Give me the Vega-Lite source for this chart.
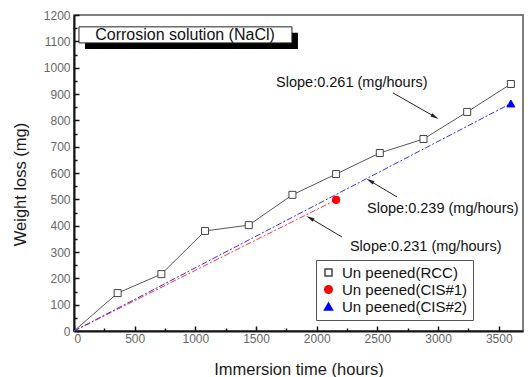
{
  "$schema": "https://vega.github.io/schema/vega-lite/v6.json",
  "width": 449,
  "height": 316,
  "autosize": {"type": "none"},
  "padding": {"left": 74, "top": 15, "right": 5, "bottom": 46},
  "background": "white",
  "config": {
    "view": {"stroke": "#555", "strokeWidth": 1.5},
    "font": "Liberation Sans",
    "axis": {
      "domainColor": "#111", "domainWidth": 2, "tickColor": "#111", "tickWidth": 1.5,
      "grid": false, "labelFont": "Liberation Sans", "labelFontSize": 12, "labelColor": "#666",
      "titleFont": "Liberation Sans", "titleFontSize": 16.5, "titleFontWeight": "normal", "titleColor": "#1a1a1a"
    },
    "legend": {
      "orient": "none", "legendX": 242, "legendY": 245, "title": null,
      "strokeColor": "#555", "fillColor": "white", "padding": 5,
      "labelFont": "Liberation Sans", "labelFontSize": 15, "labelColor": "#111",
      "rowPadding": 1, "labelOffset": 6
    }
  },
  "datasets": {
    "series": [
      {"series": "Un peened(RCC)", "t": 0, "w": 0},
      {"series": "Un peened(RCC)", "t": 360, "w": 144},
      {"series": "Un peened(RCC)", "t": 720, "w": 216},
      {"series": "Un peened(RCC)", "t": 1080, "w": 380},
      {"series": "Un peened(RCC)", "t": 1440, "w": 402},
      {"series": "Un peened(RCC)", "t": 1800, "w": 517},
      {"series": "Un peened(RCC)", "t": 2160, "w": 596},
      {"series": "Un peened(RCC)", "t": 2520, "w": 676},
      {"series": "Un peened(RCC)", "t": 2880, "w": 729},
      {"series": "Un peened(RCC)", "t": 3240, "w": 832},
      {"series": "Un peened(RCC)", "t": 3600, "w": 938},
      {"series": "Un peened(CIS#1)", "t": 0, "w": 0},
      {"series": "Un peened(CIS#1)", "t": 2160, "w": 498},
      {"series": "Un peened(CIS#2)", "t": 0, "w": 0},
      {"series": "Un peened(CIS#2)", "t": 3600, "w": 864}
    ],
    "notes": [
      {"label": "Slope:0.261 (mg/hours)", "x": 1665, "y": 942, "ax": 2629, "ay": 904, "hx": 2975, "hy": 813},
      {"label": "Slope:0.239 (mg/hours)", "x": 2415, "y": 463, "ax": 2662, "ay": 509, "hx": 2439, "hy": 570},
      {"label": "Slope:0.231 (mg/hours)", "x": 2274, "y": 319, "ax": 2208, "ay": 357, "hx": 1945, "hy": 429}
    ],
    "box": [
      {"label": "Corrosion solution (NaCl)", "x": 41, "x2": 1796, "y": 1155, "y2": 1094, "tx": 915, "ty": 1124}
    ]
  },
  "resolve": {"axis": {"x": "independent", "y": "independent"}},
  "layer": [
    {
      "data": {"name": "box"},
      "mark": {"type": "rect", "fill": "black", "xOffset": 6, "x2Offset": 6, "yOffset": 6, "y2Offset": 6},
      "encoding": {
        "x": {"field": "x", "type": "quantitative", "scale": {"domain": [0, 3700], "nice": false},
          "axis": {"orient": "bottom", "values": [250, 750, 1250, 1750, 2250, 2750, 3250], "labels": false, "title": null, "domain": false, "tickSize": -3}},
        "x2": {"field": "x2"},
        "y": {"field": "y", "type": "quantitative", "scale": {"domain": [0, 1200], "nice": false},
          "axis": {"orient": "left", "values": [50, 150, 250, 350, 450, 550, 650, 750, 850, 950, 1050, 1150], "labels": false, "title": null, "domain": false, "tickSize": -3}},
        "y2": {"field": "y2"}
      }
    },
    {
      "data": {"name": "box"},
      "mark": {"type": "rect", "fill": "white", "stroke": "#222", "strokeWidth": 1},
      "encoding": {
        "x": {"field": "x", "type": "quantitative", "axis": null},
        "x2": {"field": "x2"},
        "y": {"field": "y", "type": "quantitative", "axis": null},
        "y2": {"field": "y2"}
      }
    },
    {
      "data": {"name": "box"},
      "mark": {"type": "text", "fontSize": 16, "color": "#111", "align": "center", "baseline": "middle"},
      "encoding": {
        "x": {"field": "tx", "type": "quantitative", "axis": null},
        "y": {"field": "ty", "type": "quantitative", "axis": null},
        "text": {"field": "label"}
      }
    },
    {
      "data": {"name": "series"},
      "transform": [{"filter": "datum.series === 'Un peened(RCC)'"}],
      "mark": {"type": "line", "strokeWidth": 1, "color": "#555555"},
      "encoding": {
        "x": {"field": "t", "type": "quantitative",
          "axis": {"orient": "bottom", "title": "Immersion time (hours)", "format": "d", "values": [0, 500, 1000, 1500, 2000, 2500, 3000, 3500], "tickSize": -5, "labelPadding": 7, "titlePadding": 17}},
        "y": {"field": "w", "type": "quantitative",
          "axis": {"orient": "left", "title": "Weight loss (mg)", "titleY": 169, "format": "d", "values": [0, 100, 200, 300, 400, 500, 600, 700, 800, 900, 1000, 1100, 1200], "tickSize": -5, "labelPadding": 9, "titlePadding": 15}},
        "order": {"field": "t", "type": "quantitative"}
      }
    },
    {
      "data": {"name": "series"},
      "transform": [{"filter": "datum.series === 'Un peened(CIS#1)'"}],
      "mark": {"type": "line", "strokeWidth": 1, "color": "#ff3030", "strokeDash": [6, 2, 2, 2]},
      "encoding": {
        "x": {"field": "t", "type": "quantitative", "axis": null},
        "y": {"field": "w", "type": "quantitative", "axis": null},
        "order": {"field": "t", "type": "quantitative"}
      }
    },
    {
      "data": {"name": "series"},
      "transform": [{"filter": "datum.series === 'Un peened(CIS#2)'"}],
      "mark": {"type": "line", "strokeWidth": 1, "color": "#3030ff", "strokeDash": [6, 2, 2, 2]},
      "encoding": {
        "x": {"field": "t", "type": "quantitative", "axis": null},
        "y": {"field": "w", "type": "quantitative", "axis": null},
        "order": {"field": "t", "type": "quantitative"}
      }
    },
    {
      "data": {"name": "series"},
      "transform": [{"filter": "datum.t > 0"}],
      "mark": {"type": "point", "strokeWidth": 1, "opacity": 1},
      "encoding": {
        "x": {"field": "t", "type": "quantitative", "axis": null},
        "y": {"field": "w", "type": "quantitative", "axis": null},
        "shape": {"field": "series", "type": "nominal",
          "scale": {"domain": ["Un peened(RCC)", "Un peened(CIS#1)", "Un peened(CIS#2)"], "range": ["square", "circle", "triangle-up"]}},
        "stroke": {"field": "series", "type": "nominal",
          "scale": {"domain": ["Un peened(RCC)", "Un peened(CIS#1)", "Un peened(CIS#2)"], "range": ["#444444", "#ff0000", "#0000ff"]}},
        "fill": {"field": "series", "type": "nominal",
          "scale": {"domain": ["Un peened(RCC)", "Un peened(CIS#1)", "Un peened(CIS#2)"], "range": ["#ffffff", "#ff0000", "#0000ff"]}},
        "size": {"field": "series", "type": "nominal",
          "scale": {"domain": ["Un peened(RCC)", "Un peened(CIS#1)", "Un peened(CIS#2)"], "range": [49, 64, 90]}}
      }
    },
    {
      "data": {"name": "notes"},
      "mark": {"type": "rule", "color": "#222", "strokeWidth": 1},
      "encoding": {
        "x": {"field": "ax", "type": "quantitative", "axis": null},
        "y": {"field": "ay", "type": "quantitative", "axis": null},
        "x2": {"field": "hx"},
        "y2": {"field": "hy"}
      }
    },
    {
      "data": {"name": "notes"},
      "transform": [{"filter": "datum.hx > datum.ax"}],
      "mark": {"type": "point", "shape": "M1,0L-1,-0.45L-1,0.45Z", "filled": true, "color": "#222", "size": 70, "angle": 30, "opacity": 1},
      "encoding": {
        "x": {"field": "hx", "type": "quantitative", "axis": null},
        "y": {"field": "hy", "type": "quantitative", "axis": null}
      }
    },
    {
      "data": {"name": "notes"},
      "transform": [{"filter": "datum.hx < datum.ax"}],
      "mark": {"type": "point", "shape": "M1,0L-1,-0.45L-1,0.45Z", "filled": true, "color": "#222", "size": 70, "angle": 210, "opacity": 1},
      "encoding": {
        "x": {"field": "hx", "type": "quantitative", "axis": null},
        "y": {"field": "hy", "type": "quantitative", "axis": null}
      }
    },
    {
      "data": {"name": "notes"},
      "mark": {"type": "text", "fontSize": 14.5, "color": "#111", "align": "left", "baseline": "middle"},
      "encoding": {
        "x": {"field": "x", "type": "quantitative", "axis": null},
        "y": {"field": "y", "type": "quantitative", "axis": null},
        "text": {"field": "label"}
      }
    }
  ]
}
